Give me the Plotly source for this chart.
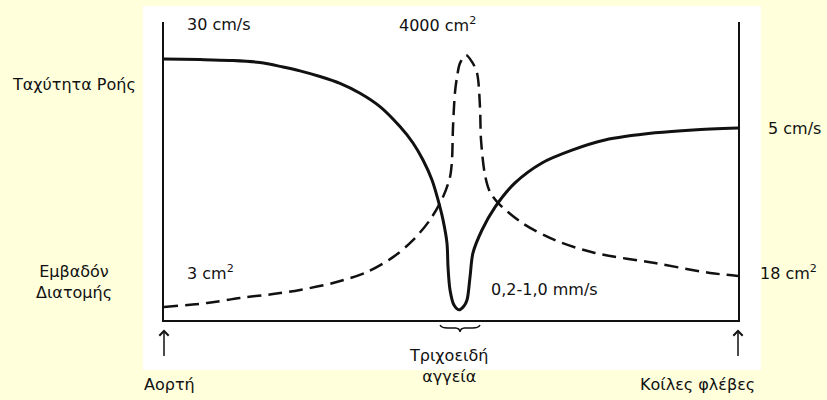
import plotly.graph_objects as go

# Position along the circulation (0 = aorta, 100 = venae cavae)
vel_pos = [0, 6.27, 11.50, 16.72, 20.73, 23.69, 27.18, 30.66, 34.15, 37.63, 41.11,
           43.38, 45.12, 46.69, 47.74, 48.61, 49.30, 49.48, 49.83, 50.52, 51.39,
           52.26, 52.79, 53.31, 53.83, 55.40, 57.67, 61.15, 65.85, 71.08, 76.83,
           85.54, 92.16, 100]
# Flow velocity (relative scale)
velocity = [87.6, 87.4, 87.1, 86.4, 84.9, 83.6, 81.7, 79.4, 76.1, 71.6, 64.9,
            59.4, 53.7, 47.0, 40.3, 33.6, 25.8, 17.8, 10.1, 5.0, 3.4,
            4.7, 6.7, 14.4, 22.5, 30.2, 37.9, 46.0, 52.7, 57.0, 60.4,
            62.8, 63.8, 64.4]

area_pos = [0, 7.49, 13.24, 18.99, 23.69, 29.44, 35.37, 39.90, 43.38, 46.34,
            48.61, 49.83, 50.17, 50.35, 50.70, 51.05, 51.57, 52.61, 53.66, 54.53,
            55.05, 55.23, 55.92, 56.79, 58.19, 62.37, 68.12, 75.09, 85.54, 95.12,
            100]
# Cross-sectional area (relative scale)
area = [4.4, 5.7, 7.4, 8.7, 10.1, 12.4, 16.1, 21.1, 26.8, 33.6,
        41.3, 48.0, 53.7, 64.8, 76.5, 81.5, 86.2, 88.9, 86.6, 82.9,
        71.5, 60.4, 48.7, 43.0, 39.3, 32.6, 26.8, 22.5, 19.1, 15.8,
        14.8]

capillaries = (48.1, 55.05)

FONT = "DejaVu Sans"
INK = "#111111"

fig = go.Figure()
fig.add_trace(go.Scatter(x=vel_pos, y=velocity, mode="lines",
                         line=dict(color=INK, width=3, shape="spline", smoothing=0.9),
                         hoverinfo="skip", showlegend=False))
fig.add_trace(go.Scatter(x=area_pos, y=area, mode="lines",
                         line=dict(color=INK, width=2.5, dash="14px,7px",
                                   shape="spline", smoothing=0.9),
                         hoverinfo="skip", showlegend=False))

# White panel behind the diagram
fig.add_shape(type="rect", xref="paper", yref="paper", x0=-0.0366, x1=1.040,
              y0=-0.1678, y1=1.0537, fillcolor="white", line_width=0, layer="below")

# Both axes span 0..100, so data units / 100 give paper coordinates
def P(v):
    return v / 100.0

# Curly brace under the capillary region
c0, c1 = capillaries
cm = (c0 + c1) / 2
pts = [
    ("M", [(c0, -1.7)]),
    ("Q", [(c0 + 0.2, -2.7), (c0 + 1.3, -2.7)]),
    ("L", [(cm - 0.8, -2.7)]),
    ("Q", [(cm - 0.05, -2.8), (cm, -4.0)]),
    ("Q", [(cm + 0.05, -2.8), (cm + 0.8, -2.7)]),
    ("L", [(c1 - 1.3, -2.7)]),
    ("Q", [(c1 - 0.2, -2.7), (c1, -1.7)]),
]
brace = " ".join(cmd + " " + " ".join(f"{P(a):.5f},{P(b):.5f}" for a, b in xy)
                 for cmd, xy in pts)
fig.add_shape(type="path", xref="paper", yref="paper", path=brace,
              line=dict(color=INK, width=1.5))

def label(text, x, y, xanchor="left", size=16, align="left"):
    fig.add_annotation(text=text, x=P(x), y=P(y), xref="paper", yref="paper",
                       showarrow=False, xanchor=xanchor, yanchor="middle",
                       align=align, font=dict(family=FONT, size=size, color=INK))

label("30 cm/s", 3.66, 99.3)
label("4000 cm<sup>2</sup>", 40.6, 99.3)
label("5 cm/s", 104.9, velocity[-1])
label("3 cm<sup>2</sup>", 3.66, 16.1)
label("18 cm<sup>2</sup>", 103.5, 16.1)
label("0,2-1,0 mm/s", 56.6, 10.1)
label("Ταχύτητα Ροής", -15.7, 78.9, xanchor="center")
label("Εμβαδόν<br>Διατομής", -15.7, 12.8, xanchor="center", align="center")
label("Τριχοειδή<br>αγγεία", cm - 2.0, -15.4, xanchor="center", align="center")
label("Αορτή", -3.8, -21.8)
label("Κοίλες φλέβες", 82.6, -21.8)

for xa in (0, 100):
    fig.add_annotation(x=P(xa), y=P(-3.2), xref="paper", yref="paper", ax=0, ay=28,
                       showarrow=True, arrowhead=4, arrowsize=1.2,
                       arrowwidth=1.5, arrowcolor=INK, text="")

fig.update_layout(
    width=827, height=400,
    margin=dict(l=164, r=89, t=22, b=80),
    paper_bgcolor="#FFFFDC", plot_bgcolor="white",
    xaxis=dict(range=[0, 100], showgrid=False, zeroline=False, showticklabels=False,
               ticks="", showline=True, linecolor=INK, linewidth=2),
    yaxis=dict(range=[0, 100], showgrid=False, zeroline=False, showticklabels=False,
               ticks="", showline=True, mirror=True, linecolor=INK, linewidth=2),
)

fig.write_html("out.html")
